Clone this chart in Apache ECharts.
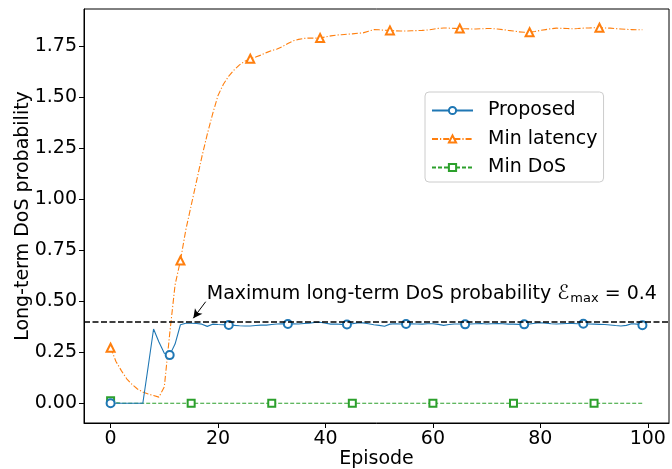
<!DOCTYPE html>
<html>
<head>
<meta charset="utf-8">
<script src="https://cdn.jsdelivr.net/npm/echarts@6/dist/echarts.min.js"></script>
<style>html,body{margin:0;padding:0;background:#fff;}#c{width:672px;height:469px;}</style>
</head>
<body>
<div id="c"></div>
<script>
// ---- data ----
const episodes = Array.from({length: 100}, (_, i) => i);
const proposed = [
  0.000, 0.000, 0.000, 0.000, 0.000, 0.000, 0.000, 0.180, 0.364, 0.300,
  0.245, 0.236, 0.290, 0.385, 0.392, 0.392, 0.391, 0.388, 0.377, 0.388,
  0.386, 0.385, 0.384, 0.382, 0.380, 0.379, 0.379, 0.381, 0.383, 0.383,
  0.386, 0.389, 0.390, 0.389, 0.390, 0.389, 0.391, 0.393, 0.396, 0.397,
  0.392, 0.388, 0.389, 0.387, 0.386, 0.390, 0.394, 0.394, 0.390, 0.385,
  0.382, 0.378, 0.388, 0.390, 0.389, 0.389, 0.390, 0.389, 0.388, 0.390,
  0.390, 0.387, 0.382, 0.386, 0.389, 0.389, 0.387, 0.389, 0.390, 0.391,
  0.389, 0.390, 0.391, 0.390, 0.388, 0.388, 0.387, 0.387, 0.389, 0.392,
  0.395, 0.393, 0.390, 0.389, 0.390, 0.391, 0.391, 0.390, 0.390, 0.389,
  0.388, 0.387, 0.386, 0.384, 0.381, 0.379, 0.382, 0.390, 0.388, 0.383
];
const minLatency = [
  0.272, 0.205, 0.160, 0.120, 0.092, 0.070, 0.055, 0.045, 0.038, 0.030,
  0.080, 0.340, 0.580, 0.700, 0.850, 0.970, 1.090, 1.210, 1.320, 1.420,
  1.510, 1.565, 1.605, 1.635, 1.660, 1.678, 1.690, 1.698, 1.708, 1.720,
  1.730, 1.738, 1.750, 1.765, 1.778, 1.785, 1.790, 1.792, 1.791, 1.792,
  1.797, 1.802, 1.806, 1.808, 1.810, 1.812, 1.815, 1.817, 1.825, 1.833,
  1.832, 1.830, 1.829, 1.827, 1.826, 1.826, 1.827, 1.828, 1.829, 1.831,
  1.835, 1.839, 1.841, 1.840, 1.839, 1.838, 1.837, 1.836, 1.836, 1.837,
  1.838, 1.838, 1.836, 1.833, 1.829, 1.826, 1.822, 1.820, 1.820, 1.824,
  1.829, 1.833, 1.837, 1.840, 1.839, 1.838, 1.837, 1.838, 1.840, 1.841,
  1.842, 1.842, 1.841, 1.840, 1.838, 1.836, 1.834, 1.833, 1.832, 1.832
];
const minDoS = [
  0.012, 0.002, 0.000, 0.000, 0.000, 0.000, 0.000, 0.000, 0.000, 0.000,
  0.000, 0.000, 0.000, 0.000, 0.000, 0.000, 0.000, 0.000, 0.000, 0.000,
  0.000, 0.000, 0.000, 0.000, 0.000, 0.000, 0.000, 0.000, 0.000, 0.000,
  0.000, 0.000, 0.000, 0.000, 0.000, 0.000, 0.000, 0.000, 0.000, 0.000,
  0.000, 0.000, 0.000, 0.000, 0.000, 0.000, 0.000, 0.000, 0.000, 0.000,
  0.000, 0.000, 0.000, 0.000, 0.000, 0.000, 0.000, 0.000, 0.000, 0.000,
  0.000, 0.000, 0.000, 0.000, 0.000, 0.000, 0.000, 0.000, 0.000, 0.000,
  0.000, 0.000, 0.000, 0.000, 0.000, 0.000, 0.000, 0.000, 0.000, 0.000,
  0.000, 0.000, 0.000, 0.000, 0.000, 0.000, 0.000, 0.000, 0.000, 0.000,
  0.000, 0.000, 0.000, 0.000, 0.000, 0.000, 0.000, 0.000, 0.000, 0.000
];
const seriesNames = ['Proposed', 'Min latency', 'Min DoS'];
const markEvery = [11, 13, 15];
const xTicks = [0, 20, 40, 60, 80, 100];
const yTicks = [0, 0.25, 0.5, 0.75, 1.0, 1.25, 1.5, 1.75];
const threshold = 0.4;
const annotationText = 'Maximum long-term DoS probability ';
const annotationPos = [17.9, 0.536];
const arrowFrom = [17.7, 0.498];
const arrowTo = [15.4, 0.417];

// ---- chart ----
const FONT = 'DejaVu Sans';
function buildData(vals, every) {
  return vals.map((v, i) => i % every === 0 ? [episodes[i], v] : {value: [episodes[i], v], symbol: 'none'});
}
const chart = echarts.init(document.getElementById('c'), null, {renderer: 'canvas'});
const option = {
  animation: false,
  textStyle: {fontFamily: FONT},
  grid: {left: 84, right: 3, top: 9, bottom: 46, containLabel: false, outerBoundsMode: 'none',
         show: true, borderColor: '#000', borderWidth: 1, backgroundColor: 'transparent'},
  legend: {
    left: 425, top: 92, orient: 'vertical',
    data: seriesNames,
    itemWidth: 41, itemHeight: 9, itemGap: 9.5,
    padding: [9, 6, 5, 6],
    backgroundColor: '#fff', borderColor: '#cccccc', borderWidth: 1, borderRadius: 4,
    textStyle: {fontFamily: FONT, fontSize: 19, color: '#000', padding: [0, 0, 0, 10]}
  },
  xAxis: {
    type: 'value', min: -4.95, max: 103.95,
    name: 'Episode', nameLocation: 'middle', nameGap: 27, nameMoveOverlap: false,
    nameTextStyle: {fontFamily: FONT, fontSize: 19, color: '#000'},
    axisLine: {show: true, onZero: false, lineStyle: {color: '#000', width: 1}},
    axisTick: {show: true, inside: false, length: 5, lineStyle: {color: '#000'}, customValues: xTicks},
    axisLabel: {fontFamily: FONT, fontSize: 19, color: '#000', margin: 7, customValues: xTicks, formatter: v => String(v)},
    splitLine: {show: false}
  },
  yAxis: {
    type: 'value', min: -0.097, max: 1.934,
    name: 'Long-term DoS probability', nameLocation: 'middle', nameGap: 51, nameRotate: 90, nameMoveOverlap: false,
    nameTextStyle: {fontFamily: FONT, fontSize: 19, color: '#000'},
    axisLine: {show: true, onZero: false, lineStyle: {color: '#000', width: 1}},
    axisTick: {show: true, inside: false, length: 5, lineStyle: {color: '#000'}, customValues: yTicks},
    axisLabel: {fontFamily: FONT, fontSize: 19, color: '#000', margin: 7, customValues: yTicks, formatter: v => v.toFixed(2)},
    splitLine: {show: false}
  },
  series: [
    {
      name: seriesNames[0], type: 'line', data: buildData(proposed, markEvery[0]),
      symbol: 'emptyCircle', symbolSize: 8, showAllSymbol: true,
      color: '#1f77b4',
      lineStyle: {color: '#1f77b4', width: 1.1, type: 'solid'},
      itemStyle: {color: '#1f77b4', borderColor: '#1f77b4', borderWidth: 1},
      z: 4,
      markPoint: {
        silent: true, symbol: 'circle', symbolSize: 0,
        data: [{coord: annotationPos}],
        label: {
          show: true, position: 'right', distance: 0,
          formatter: annotationText + '{e|ℰ}{s|max}{t| = 0.4}',
          fontFamily: FONT, fontSize: 19, color: '#000',
          rich: {
            e: {fontFamily: FONT, fontSize: 20, fontStyle: 'italic', color: '#000'},
            s: {fontFamily: FONT, fontSize: 13, color: '#000', verticalAlign: 'bottom', padding: [9, 0, 0, 1]},
            t: {fontFamily: FONT, fontSize: 19, color: '#000'}
          }
        }
      },
      markLine: {
        silent: true, symbol: ['none', 'arrow'], symbolSize: [7, 9],
        label: {show: false},
        lineStyle: {color: '#000', width: 1, type: 'solid'},
        data: [[{coord: arrowFrom}, {coord: arrowTo}]]
      }
    },
    {
      name: seriesNames[1], type: 'line', data: buildData(minLatency, markEvery[1]),
      symbol: 'emptyTriangle', symbolSize: 8, showAllSymbol: true,
      color: '#ff7f0e',
      lineStyle: {color: '#ff7f0e', width: 1.1, type: [6, 2, 1.2, 2]},
      itemStyle: {color: '#ff7f0e', borderColor: '#ff7f0e', borderWidth: 1.2},
      z: 3
    },
    {
      name: seriesNames[2], type: 'line', data: buildData(minDoS, markEvery[2]),
      symbol: 'emptyRect', symbolSize: 7, showAllSymbol: true,
      color: '#2ca02c',
      lineStyle: {color: '#2ca02c', width: 1.1, type: [4, 2]},
      itemStyle: {color: '#2ca02c', borderColor: '#2ca02c', borderWidth: 1},
      z: 2,
      markLine: {
        silent: true, symbol: ['none', 'none'],
        label: {show: false},
        lineStyle: {color: '#000', width: 1.5, type: [6, 2.5]},
        data: [{yAxis: threshold}]
      }
    }
  ]
};
chart.setOption(option);
</script>
</body>
</html>
